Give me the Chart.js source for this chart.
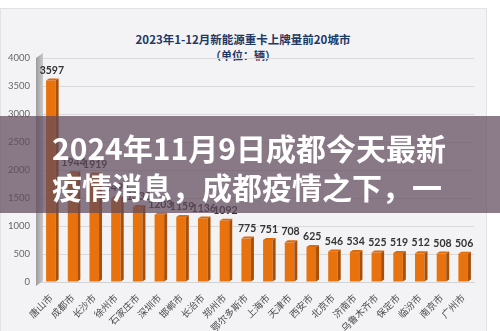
<!DOCTYPE html>
<html>
<head>
<meta charset="utf-8">
<script src="https://cdn.jsdelivr.net/npm/chart.js@4.4.0/dist/chart.umd.min.js"></script>
<style>
  html, body { margin: 0; padding: 0; background: #ffffff; }
  #wrap { position: relative; width: 500px; height: 331px; overflow: hidden; }
  #panel { position: absolute; left: 0; top: 8px; width: 487px; height: 330px;
           background: #f3f3f5; border: 1px solid #e2e2e4; box-sizing: border-box; }
  #chart { position: absolute; left: 0; top: 0; }
  .title { position: absolute; left: 0; width: 486px; text-align: center;
           font-family: "Noto Sans CJK SC", sans-serif; font-weight: bold; color: #1f3864; }
  #t1 { top: 31px; font-size: 11.5px; }
  #t2 { top: 47px; font-size: 11px; }
  #band { position: absolute; left: 0; top: 116px; width: 500px; height: 97px;
          background: rgba(95, 72, 92, 0.72); box-sizing: border-box;
          padding: 12px 0 0 52px; color: #ffffff; font-family: "Noto Sans CJK SC", sans-serif;
          font-weight: bold; font-size: 30px; line-height: 39px; white-space: nowrap; }
</style>
</head>
<body>
<div id="wrap">
  <div id="panel"></div>
  <div class="title" id="t1">2023年1-12月新能源重卡上牌量前20城市</div>
  <div class="title" id="t2">（单位：辆）</div>
  <canvas id="chart" width="500" height="331"></canvas>
  <div id="band">2024年11月9日成都今天最新<br>疫情消息，成都疫情之下，一</div>
</div>
<script>
// 城市与上牌量
const cities = ['唐山市', '成都市', '长沙市', '徐州市', '石家庄市', '深圳市', '邯郸市', '长治市', '郑州市', '鄂尔多斯市',
                '上海市', '天津市', '西安市', '北京市', '济南市', '乌鲁木齐市', '保定市', '临汾市', '南京市', '广州市'];
const registrations = [3597, 1944, 1919, 1494, 1338, 1203, 1159, 1136, 1092, 775,
                       751, 708, 625, 546, 534, 525, 519, 512, 508, 506];
const yTicks = [0, 500, 1000, 1500, 2000, 2500, 3000, 3500, 4000];

// 左侧灰色立体墙
const wallPlugin = {
  id: 'wall',
  beforeDatasetsDraw(chart) {
    const { ctx, chartArea } = chart;
    const x0 = chartArea.left - 4, x1 = chartArea.left + 3;
    const g = ctx.createLinearGradient(x0, 0, x1, 0);
    g.addColorStop(0, '#9c9c9e');
    g.addColorStop(1, '#c9c9cb');
    ctx.save();
    ctx.fillStyle = g;
    ctx.beginPath();
    ctx.moveTo(x0, chartArea.top);
    ctx.lineTo(x1, chartArea.top - 5);
    ctx.lineTo(x1, chartArea.bottom - 1);
    ctx.lineTo(x0, chartArea.bottom + 4);
    ctx.closePath();
    ctx.fill();
    ctx.restore();
  }
};

// 柱子的侧面、顶面和数值
const barPlugin = {
  id: 'bar3d',
  afterDatasetsDraw(chart) {
    const { ctx } = chart;
    const meta = chart.getDatasetMeta(0);
    ctx.save();
    meta.data.forEach((bar, i) => {
      const half = bar.width / 2;
      const l = bar.x - half, r = bar.x + half, d = 3;
      ctx.fillStyle = '#a94f08';
      ctx.beginPath();
      ctx.moveTo(r, bar.y);
      ctx.lineTo(r + d, bar.y - 2);
      ctx.lineTo(r + d, bar.base - 2);
      ctx.lineTo(r, bar.base);
      ctx.closePath();
      ctx.fill();
      ctx.fillStyle = '#d86a10';
      ctx.beginPath();
      ctx.moveTo(l, bar.y);
      ctx.lineTo(l + d, bar.y - 2);
      ctx.lineTo(r + d, bar.y - 2);
      ctx.lineTo(r, bar.y);
      ctx.closePath();
      ctx.fill();

      ctx.fillStyle = '#333333';
      ctx.font = 'bold 10.5px Lato, sans-serif';
      ctx.textAlign = 'center';
      ctx.textBaseline = 'bottom';
      ctx.fillText(String(registrations[i]), bar.x + 1, bar.y - 5);
    });
    ctx.restore();
  }
};

new Chart(document.getElementById('chart'), {
  type: 'bar',
  data: {
    labels: cities,
    datasets: [{
      data: registrations,
      backgroundColor: '#e8730e',
      borderWidth: 0,
      categoryPercentage: 1,
      barPercentage: 0.44
    }]
  },
  options: {
    responsive: false,
    animation: false,
    layout: { padding: { top: 58, right: 26, left: 0, bottom: 0 } },
    plugins: { legend: { display: false }, tooltip: { enabled: false } },
    scales: {
      x: {
        afterFit(scale) { scale.height = 49; },
        grid: { display: false },
        border: { display: true, color: '#d4d4d6' },
        ticks: {
          minRotation: 45, maxRotation: 45, autoSkip: false, padding: 2,
          color: '#4a4a4a',
          font: { family: '"Noto Sans CJK SC", sans-serif', size: 9.5 }
        }
      },
      y: {
        min: 0, max: 4000,
        afterFit(scale) { scale.width = 40; },
        afterBuildTicks(scale) { scale.ticks = yTicks.map(v => ({ value: v })); },
        grid: { color: '#d9d9db', drawTicks: false },
        border: { display: false },
        ticks: {
          padding: 10, color: '#666666',
          font: { family: 'Lato, sans-serif', size: 9.5 },
          callback: v => String(v)
        }
      }
    }
  },
  plugins: [wallPlugin, barPlugin]
});
</script>
</body>
</html>
